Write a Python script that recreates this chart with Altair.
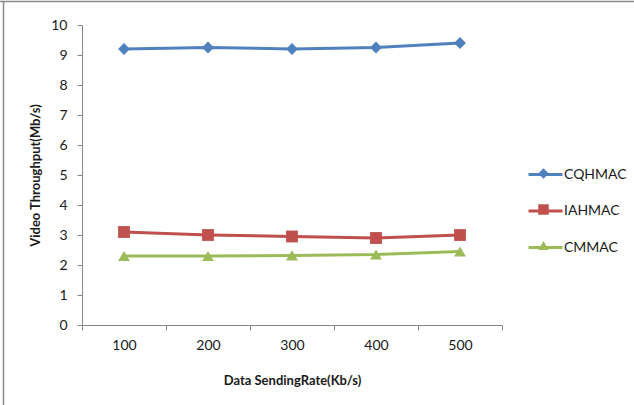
import altair as alt
import pandas as pd

rates = ["100", "200", "300", "400", "500"]
series_names = ["CQHMAC", "IAHMAC", "CMMAC"]
cqhmac = [9.2, 9.25, 9.2, 9.25, 9.4]
iahmac = [3.1, 3.0, 2.95, 2.9, 3.0]
cmmac = [2.3, 2.3, 2.32, 2.35, 2.45]
colors = ["#4F81BD", "#C0504D", "#9BBB59"]
shapes = ["diamond", "square", "triangle-up"]
y_ticks = list(range(0, 11))

rows = []
for i, (name, vals) in enumerate(zip(series_names, [cqhmac, iahmac, cmmac])):
    for r, v in zip(rates, vals):
        rows.append({"rate": r, "value": v, "series": name, "marker": f"m{i}"})
df = pd.DataFrame(rows)

FONT = "Lato"
TXT = "#1a1a1a"
AX = "#868686"

x = alt.X(
    "rate:O", sort=rates,
    scale=alt.Scale(type="band", paddingInner=0, paddingOuter=0),
    axis=alt.Axis(title="Data SendingRate(Kb/s)", labelAngle=0, tickBand="extent",
                  labelPadding=8, titlePadding=22),
)
y = alt.Y(
    "value:Q", scale=alt.Scale(domain=[0, 10]),
    axis=alt.Axis(values=y_ticks, title="Video Throughput(Mb/s)", grid=False,
                  labelPadding=10, titlePadding=8),
)

base = alt.Chart(df)

lines = base.mark_line(strokeWidth=3).encode(
    x=x, y=y,
    stroke=alt.Stroke(
        "series:N",
        scale=alt.Scale(domain=series_names, range=colors),
        legend=alt.Legend(title=None, orient="none", legendX=445, legendY=131,
                          symbolType="stroke", symbolSize=1156, symbolStrokeWidth=3,
                          labelOffset=0, labelFont=FONT, labelFontSize=14, labelColor=TXT,
                          rowPadding=10.5, padding=0),
    ),
)

pt_legend = alt.Legend(title=None, orient="none", legendX=456, legendY=143,
                       symbolSize=110, symbolStrokeWidth=0, labelExpr="''",
                       labelFontSize=1, rowPadding=25, padding=0)

points = base.mark_point(filled=True, size=140, opacity=1).encode(
    x=x, y=y,
    shape=alt.Shape("marker:N", scale=alt.Scale(range=shapes), legend=pt_legend),
    color=alt.Color("marker:N", scale=alt.Scale(range=colors), legend=pt_legend),
)

one = pd.DataFrame({"a": [0]})
top_edge = alt.Chart(one).mark_rule(color="#8a8a8a", strokeWidth=1.5).encode(
    x=alt.value(-82), x2=alt.value(552), y=alt.value(-23.5))
left_edge = alt.Chart(one).mark_rule(color="#8a8a8a", strokeWidth=1.5).encode(
    x=alt.value(-78.5), y=alt.value(-24), y2=alt.value(380))

chart = alt.layer(top_edge, left_edge, lines, points).properties(
    width=420, height=300,
    padding={"left": 82, "top": 25, "right": 132, "bottom": 80},
    autosize=alt.AutoSizeParams(type="none"),
    background="white",
).configure_view(stroke=None).configure_axis(
    domainColor=AX, tickColor=AX, tickSize=5,
    labelFont=FONT, labelFontSize=14, labelColor=TXT,
    titleFont=FONT, titleFontSize=13, titleFontWeight="bold", titleColor=TXT,
)

chart.save("out.html", embed_options={"renderer": "svg", "actions": False})
